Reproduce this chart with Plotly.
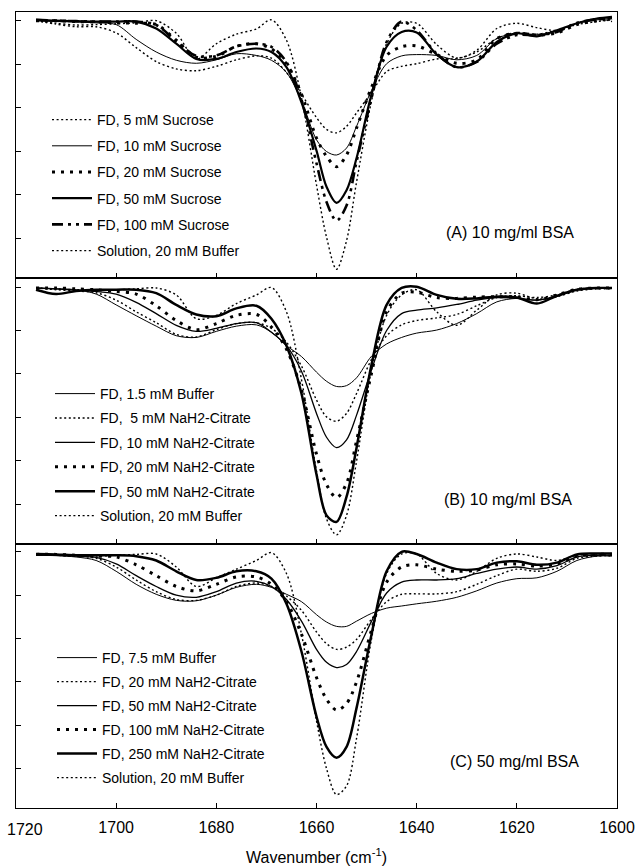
import plotly.graph_objects as go

# Wavenumber grid (cm-1)
WN = [1716, 1712, 1708, 1704, 1700, 1696, 1692, 1688, 1684, 1680, 1676, 1672, 1669, 1666,
      1663, 1660, 1658, 1656, 1654, 1652, 1649, 1646, 1643, 1640, 1636, 1632, 1628, 1624,
      1620, 1616, 1612, 1608, 1604, 1601]

# ---- Panel A: 10 mg/ml BSA, sucrose ----
A_names = ["FD, 5 mM Sucrose", "FD, 10 mM Sucrose", "FD, 20 mM Sucrose",
           "FD, 50 mM Sucrose", "FD, 100 mM Sucrose", "Solution, 20 mM Buffer"]
A_suc5 = [0.0, -0.08, -0.14, -0.14, -0.28, -0.62, -0.94, -1.11, -1.15, -1.05, -0.90, -0.81, -0.86, -1.19,
          -1.69, -2.23, -2.50, -2.58, -2.43, -2.12, -1.65, -1.17, -1.05, -0.99, -0.88, -0.87, -0.72, -0.41,
          -0.27, -0.31, -0.22, -0.09, -0.02, 0.02]
A_suc10 = [0.0, -0.02, -0.03, -0.05, -0.09, -0.43, -0.72, -0.91, -0.98, -0.90, -0.76, -0.80, -0.91, -1.19,
           -1.84, -2.74, -3.01, -3.09, -2.93, -2.43, -1.60, -0.99, -0.81, -0.78, -0.80, -0.90, -0.80, -0.41,
           -0.29, -0.33, -0.23, -0.06, 0.02, 0.05]
A_suc20 = [0.0, 0.0, -0.02, -0.03, -0.05, -0.06, -0.09, -0.45, -0.84, -0.82, -0.59, -0.53, -0.65, -0.99,
           -1.69, -2.70, -3.12, -3.36, -3.09, -2.47, -1.53, -0.80, -0.60, -0.58, -0.78, -0.98, -0.90, -0.41,
           -0.29, -0.33, -0.28, -0.09, 0.0, 0.05]
A_suc50 = [0.02, 0.0, -0.01, -0.02, -0.02, -0.02, -0.18, -0.53, -0.88, -0.88, -0.72, -0.64, -0.72, -1.07,
           -1.88, -2.99, -3.82, -4.19, -3.90, -3.16, -1.69, -0.60, -0.26, -0.27, -0.78, -1.07, -0.94, -0.49,
           -0.29, -0.36, -0.22, -0.06, 0.05, 0.09]
A_suc100 = [0.02, 0.0, -0.01, -0.02, -0.02, -0.02, -0.10, -0.47, -0.81, -0.80, -0.59, -0.53, -0.60, -0.95,
            -1.82, -3.28, -4.17, -4.60, -4.25, -3.24, -1.77, -0.49, -0.02, -0.22, -0.76, -1.07, -0.95, -0.53,
            -0.33, -0.33, -0.26, -0.05, 0.03, 0.05]
A_sol = [0.0, -0.06, -0.10, -0.09, -0.07, -0.05, 0.0, -0.29, -0.88, -0.53, -0.31, -0.19, 0.02, -0.45,
         -1.77, -3.78, -4.98, -5.72, -5.06, -3.71, -1.84, -0.53, -0.06, -0.06, -0.55, -0.86, -0.68, -0.18,
         -0.06, -0.16, -0.22, -0.06, 0.05, -0.02]

# ---- Panel B: 10 mg/ml BSA, NaH2-citrate ----
B_names = ["FD, 1.5 mM Buffer", "FD,  5 mM NaH2-Citrate", "FD, 10 mM NaH2-Citrate",
           "FD, 20 mM NaH2-Citrate", "FD, 50 mM NaH2-Citrate", "Solution, 20 mM Buffer"]
B_buf15 = [-0.02, -0.04, -0.06, -0.16, -0.41, -0.66, -0.90, -1.12, -1.16, -1.02, -0.90, -0.87, -1.04, -1.35,
           -1.60, -1.96, -2.17, -2.29, -2.27, -2.09, -1.59, -1.31, -1.16, -1.06, -0.99, -0.84, -0.61, -0.34,
           -0.26, -0.30, -0.22, -0.06, -0.02, -0.02]
B_cit5 = [-0.02, -0.06, -0.09, -0.13, -0.30, -0.57, -0.82, -1.09, -1.15, -0.98, -0.84, -0.82, -0.95, -1.27,
          -1.82, -2.60, -2.99, -3.09, -2.91, -2.45, -1.66, -1.12, -0.87, -0.77, -0.71, -0.63, -0.43, -0.24,
          -0.20, -0.24, -0.18, -0.05, -0.02, -0.02]
B_cit10 = [-0.02, -0.04, -0.07, -0.10, -0.16, -0.35, -0.61, -0.88, -1.02, -0.95, -0.84, -0.82, -1.04, -1.35,
           -1.94, -2.91, -3.46, -3.70, -3.52, -2.95, -1.90, -1.00, -0.61, -0.53, -0.48, -0.40, -0.30, -0.24,
           -0.26, -0.30, -0.20, -0.06, -0.02, -0.02]
B_cit20 = [-0.02, -0.02, -0.04, -0.06, -0.10, -0.16, -0.43, -0.77, -0.98, -0.84, -0.65, -0.63, -0.92, -1.43,
           -2.37, -3.85, -4.55, -4.85, -4.52, -3.54, -1.98, -0.57, -0.14, -0.12, -0.24, -0.26, -0.23, -0.22,
           -0.23, -0.29, -0.18, -0.05, -0.02, -0.02]
B_cit50 = [-0.06, -0.16, -0.09, -0.06, -0.06, -0.06, -0.14, -0.41, -0.63, -0.67, -0.49, -0.43, -0.73, -1.35,
           -2.45, -4.32, -5.26, -5.41, -4.83, -3.70, -1.78, -0.41, -0.02, 0.01, -0.18, -0.27, -0.26, -0.22,
           -0.24, -0.38, -0.20, -0.06, -0.02, -0.02]
B_sol = [-0.02, -0.04, -0.06, -0.06, -0.06, -0.04, -0.02, -0.18, -0.73, -0.65, -0.38, -0.18, -0.01, -0.57,
         -2.13, -4.24, -5.34, -5.71, -5.26, -4.01, -1.90, -0.65, -0.18, -0.06, -0.57, -0.88, -0.53, -0.18,
         -0.14, -0.27, -0.22, -0.09, -0.04, -0.04]

# ---- Panel C: 50 mg/ml BSA, NaH2-citrate ----
C_names = ["FD, 7.5 mM Buffer", "FD, 20 mM NaH2-Citrate", "FD, 50 mM NaH2-Citrate",
           "FD, 100 mM NaH2-Citrate", "FD, 250 mM NaH2-Citrate", "Solution, 20 mM Buffer"]
C_buf75 = [-0.08, -0.09, -0.12, -0.20, -0.45, -0.75, -0.98, -1.12, -1.13, -1.00, -0.82, -0.75, -0.82, -0.98,
           -1.15, -1.45, -1.62, -1.72, -1.72, -1.60, -1.42, -1.30, -1.25, -1.20, -1.14, -1.05, -0.90, -0.72,
           -0.62, -0.60, -0.45, -0.20, -0.10, -0.10]
C_cit20 = [-0.08, -0.08, -0.10, -0.15, -0.35, -0.65, -0.92, -1.10, -1.12, -1.00, -0.80, -0.72, -0.80, -1.02,
           -1.35, -1.85, -2.12, -2.25, -2.20, -2.02, -1.55, -1.15, -0.98, -0.97, -0.97, -0.92, -0.75, -0.55,
           -0.40, -0.45, -0.38, -0.15, -0.10, -0.08]
C_cit50 = [-0.08, -0.08, -0.10, -0.13, -0.28, -0.55, -0.80, -1.00, -1.05, -0.92, -0.72, -0.68, -0.80, -1.10,
           -1.60, -2.25, -2.55, -2.67, -2.60, -2.30, -1.60, -0.95, -0.70, -0.65, -0.65, -0.62, -0.50, -0.40,
           -0.35, -0.40, -0.32, -0.12, -0.08, -0.08]
C_cit100 = [-0.06, -0.06, -0.08, -0.10, -0.12, -0.30, -0.55, -0.80, -0.90, -0.75, -0.58, -0.58, -0.75, -1.15,
            -1.90, -2.90, -3.40, -3.65, -3.50, -3.00, -1.80, -0.70, -0.35, -0.30, -0.40, -0.45, -0.42, -0.30,
            -0.28, -0.33, -0.28, -0.10, -0.06, -0.06]
C_cit250 = [-0.05, -0.06, -0.08, -0.08, -0.08, -0.10, -0.20, -0.45, -0.65, -0.60, -0.45, -0.45, -0.62, -1.20,
            -2.30, -3.80, -4.50, -4.75, -4.50, -3.60, -1.90, -0.45, 0.0, -0.05, -0.25, -0.40, -0.40, -0.25,
            -0.22, -0.30, -0.25, -0.06, -0.04, -0.04]
C_sol = [-0.06, -0.08, -0.10, -0.10, -0.08, -0.06, -0.05, -0.35, -0.80, -0.60, -0.40, -0.20, -0.02, -0.50,
         -1.90, -3.90, -5.00, -5.60, -5.40, -4.30, -2.00, -0.50, -0.05, -0.05, -0.50, -0.65, -0.45, -0.15,
         -0.05, -0.12, -0.20, -0.08, -0.05, -0.10]

X_TICKS = [1700, 1680, 1660, 1640, 1620, 1600]
FIRST_TICK_LABEL = "1720"   # left-end label, drawn as an annotation nudged inwards like the original
Y_TICKS = [0, -1, -2, -3, -4, -5]

W, H = 636, 866
FONT = "Arial, Liberation Sans, sans-serif"

# line styles (per legend row)
DOT = dict(color="black", width=1.4, dash="2px,2.6px")
THIN = dict(color="black", width=1.0)
HDOT = dict(color="black", width=3.0, dash="3px,6px")
HEAVY = dict(color="black", width=2.2)
DASHDOT = dict(color="black", width=2.6, dash="11px,5px,3px,5px,3px,5px")

panels = [
    (A_names, [A_suc5, A_suc10, A_suc20, A_suc50, A_suc100, A_sol], [DOT, THIN, HDOT, HEAVY, DASHDOT, DOT]),
    (B_names, [B_buf15, B_cit5, B_cit10, B_cit20, B_cit50, B_sol], [THIN, DOT, dict(THIN, width=1.3), HDOT, dict(HEAVY, width=2.5), DOT]),
    (C_names, [C_buf75, C_cit20, C_cit50, C_cit100, C_cit250, C_sol], [THIN, DOT, dict(THIN, width=1.3), HDOT, dict(HEAVY, width=2.5), DOT]),
]

fig = go.Figure()
for p, (names, series, styles) in enumerate(panels):
    ax = "" if p == 0 else str(p + 1)
    leg = "legend" if p == 0 else "legend" + str(p + 1)
    for k, (nm, vals, st) in enumerate(zip(names, series, styles)):
        fig.add_trace(go.Scatter(
            x=WN, y=vals, mode="lines", name=nm, line=dict(st, shape="spline", smoothing=0.9),
            xaxis="x" + ax, yaxis="y" + ax, legend=leg, legendgroup=f"p{p}k{k}",
            showlegend=True, hoverinfo="skip"))

# panel frames in pixels
XL, XR = 16, 617
frames = [(12, 278), (278, 544), (544, 808)]
yranges = [[-5.92, 0.2], [-5.92, 0.21], [-5.91, 0.18]]
layout = dict(
    width=W, height=H, margin=dict(l=0, r=0, t=0, b=0, autoexpand=False),
    paper_bgcolor="white", plot_bgcolor="white",
    font=dict(family=FONT, color="black", size=14),
    showlegend=True,
)
for p, (t, b) in enumerate(frames):
    ax = "" if p == 0 else str(p + 1)
    last = p == 2
    layout["xaxis" + ax] = dict(
        domain=[XL / W, XR / W], range=[1720, 1600], anchor="y" + ax,
        showline=True, linecolor="black", linewidth=1.3, mirror=True,
        showgrid=False, zeroline=False, automargin=False,
        tickvals=X_TICKS if last else X_TICKS[:-1],
        ticks="inside", ticklen=5, tickcolor="black",
        showticklabels=last, tickfont=dict(size=16, family=FONT), ticklabeloverflow="allow",
        ticklabelstandoff=5,
        title=dict(text="Wavenumber (cm<sup>-1</sup>)", font=dict(size=16, family=FONT), standoff=17) if last else None,
    )
    layout["yaxis" + ax] = dict(
        domain=[1 - b / H, 1 - t / H], range=yranges[p], anchor="x" + ax,
        showline=True, linecolor="black", linewidth=1.3, mirror=True,
        showgrid=False, zeroline=False, tickvals=Y_TICKS, ticks="inside", ticklen=5,
        tickcolor="black", showticklabels=False, automargin=False,
    )

legend_pos = [(47, 104, 5), (50, 378, 3.2), (52, 642, 2.8)]
for p, (lx, ly, gap) in enumerate(legend_pos):
    key = "legend" if p == 0 else "legend" + str(p + 1)
    layout[key] = dict(
        x=lx / W, y=1 - ly / H, xanchor="left", yanchor="top",
        bgcolor="rgba(0,0,0,0)", borderwidth=0, itemwidth=40,
        font=dict(size=14, family=FONT), tracegroupgap=gap, itemclick=False,
    )

fig.update_layout(**layout)

labels = ["(A) 10 mg/ml BSA", "(B) 10 mg/ml BSA", "(C) 50 mg/ml BSA"]
label_pos = [(510, 232), (508, 500), (514, 761)]
for p, (txt, (px, py)) in enumerate(zip(labels, label_pos)):
    fig.add_annotation(text=txt, x=px / W, y=1 - py / H, xref="paper", yref="paper",
                       showarrow=False, font=dict(size=16, family=FONT), xanchor="center", yanchor="middle")

fig.add_annotation(text=FIRST_TICK_LABEL, x=5 / W, y=1 - 829 / H, xref="paper", yref="paper",
                   showarrow=False, font=dict(size=16, family=FONT), xanchor="left", yanchor="middle")

fig.write_html("out.html", config={"displayModeBar": False},
               post_script="document.body.style.margin='0';document.body.style.overflow='hidden';")
